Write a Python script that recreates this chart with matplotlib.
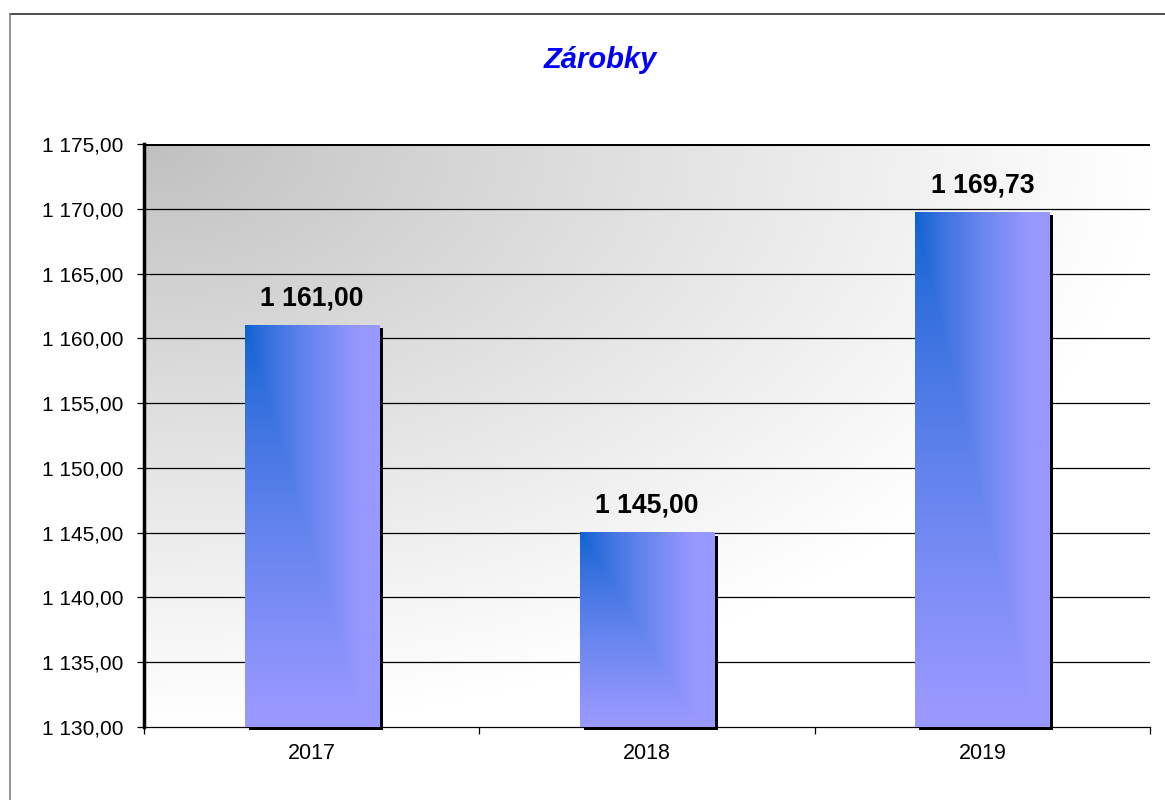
import numpy as np
import matplotlib
matplotlib.use("Agg")
import matplotlib.pyplot as plt
import matplotlib.transforms as mtransforms
from matplotlib.patches import Rectangle
from matplotlib.lines import Line2D

categories = ["2017", "2018", "2019"]
values = [1161.00, 1145.00, 1169.73]
y_min, y_max, y_step = 1130, 1175, 5
title = "Zárobky"

plt.rcParams['font.family'] = ['Liberation Sans', 'DejaVu Sans']

W, H, DPI = 1165, 800, 100
fig = plt.figure(figsize=(W / DPI, H / DPI), dpi=DPI)
fig.patch.set_facecolor("white")

# figure border
fig.add_artist(Line2D([10 / W, 1.0], [1 - 14 / H, 1 - 14 / H], transform=fig.transFigure, color="#303030", lw=1.2))
fig.add_artist(Line2D([10 / W, 10 / W], [0, 1 - 14 / H], transform=fig.transFigure, color="#808080", lw=1.2))

L, R, T, B = 144, 1150, 144, 727
ax = fig.add_axes([L / W, 1 - B / H, (R - L) / W, (B - T) / H])
ax.set_xlim(0, len(categories))
ax.set_ylim(y_min, y_max)

# background gradient (gray top-left -> white)
ny, nx = 300, 500
u = np.linspace(0, 1, nx)[None, :]
v = np.linspace(0, 1, ny)[:, None]
r = np.sqrt((u * 1.0) ** 2 + (v * 1.0) ** 2)
g = 0.75 + 0.25 * np.clip(r / 1.0, 0, 1) ** 0.9
bg = np.dstack([g, g, g])
ax.imshow(bg, extent=[0, 1, 0, 1], transform=ax.transAxes, aspect='auto', zorder=0, interpolation='bilinear')

# gridlines
yt = np.arange(y_min, y_max + 0.001, y_step)
for y in yt[1:-1]:
    ax.axhline(y, color="black", lw=0.9, zorder=1)
ax.axhline(y_max, color="black", lw=2.2, zorder=1)

# bars
dark = np.array([0x0a, 0x60, 0xd0]) / 255.0
light = np.array([0x98, 0x98, 0xff]) / 255.0
bw = 0.4
px_per_unit = (B - T) / (y_max - y_min)
shadow_tr = mtransforms.offset_copy(ax.transData, fig=fig, x=4 * 72 / DPI, y=-3 * 72 / DPI, units='points')
for i, val in enumerate(values):
    x0 = i + 0.5 - bw / 2
    hpx = max(int((val - y_min) * px_per_unit), 2)
    wpx = 135
    sh = Rectangle((x0, y_min), bw, val - y_min, facecolor="black", edgecolor="none",
                   transform=shadow_tr, zorder=2, clip_on=False)
    ax.add_patch(sh)
    uu = np.linspace(0, 1, wpx)[None, :]
    vv = np.linspace(0, 1, hpx)[:, None]
    t = np.clip(np.maximum(uu / 0.85, vv / 0.95), 0, 1) ** 0.75
    img = dark[None, None, :] * (1 - t[..., None]) + light[None, None, :] * t[..., None]
    ax.imshow(img, extent=[x0, x0 + bw, y_min, val], aspect='auto', zorder=3,
              interpolation='bilinear', origin='upper')
    ax.annotate(f"{val:,.2f}".replace(",", " ").replace(".", ","),
                xy=(i + 0.5, val), xytext=(0, 14.4), textcoords='offset points',
                ha='center', va='baseline', fontsize=19.2, fontweight='bold', color='black', zorder=5)

ax.set_xlim(0, len(categories))
ax.set_ylim(y_min, y_max)

# axes styling
for s in ["top", "right"]:
    ax.spines[s].set_visible(False)
ax.spines["left"].set_linewidth(2.5)
ax.spines["left"].set_color("black")
ax.spines["bottom"].set_linewidth(0.9)
ax.spines["bottom"].set_color("black")
ax.spines["left"].set_zorder(6)

ax.set_yticks(yt)
ax.set_yticklabels([f"{y:,.2f}".replace(",", " ").replace(".", ",") for y in yt], fontsize=15)
ax.tick_params(axis='y', direction='out', length=5, width=0.9, pad=10, colors='black')

ax.set_xticks([i + 0.5 for i in range(len(categories))])
ax.set_xticklabels(categories, fontsize=15.5)
ax.set_xticks(np.arange(0, len(categories) + 1), minor=True)
ax.tick_params(axis='x', which='major', length=0, pad=11.5)
ax.tick_params(axis='x', which='minor', length=5, width=0.9, direction='out')

fig.text(600 / W, 1 - 68 / H, title, ha='center', va='baseline', fontsize=21,
         fontweight='bold', fontstyle='italic', color='#0000ff')

fig.savefig("out.png", dpi=DPI, facecolor="white")
